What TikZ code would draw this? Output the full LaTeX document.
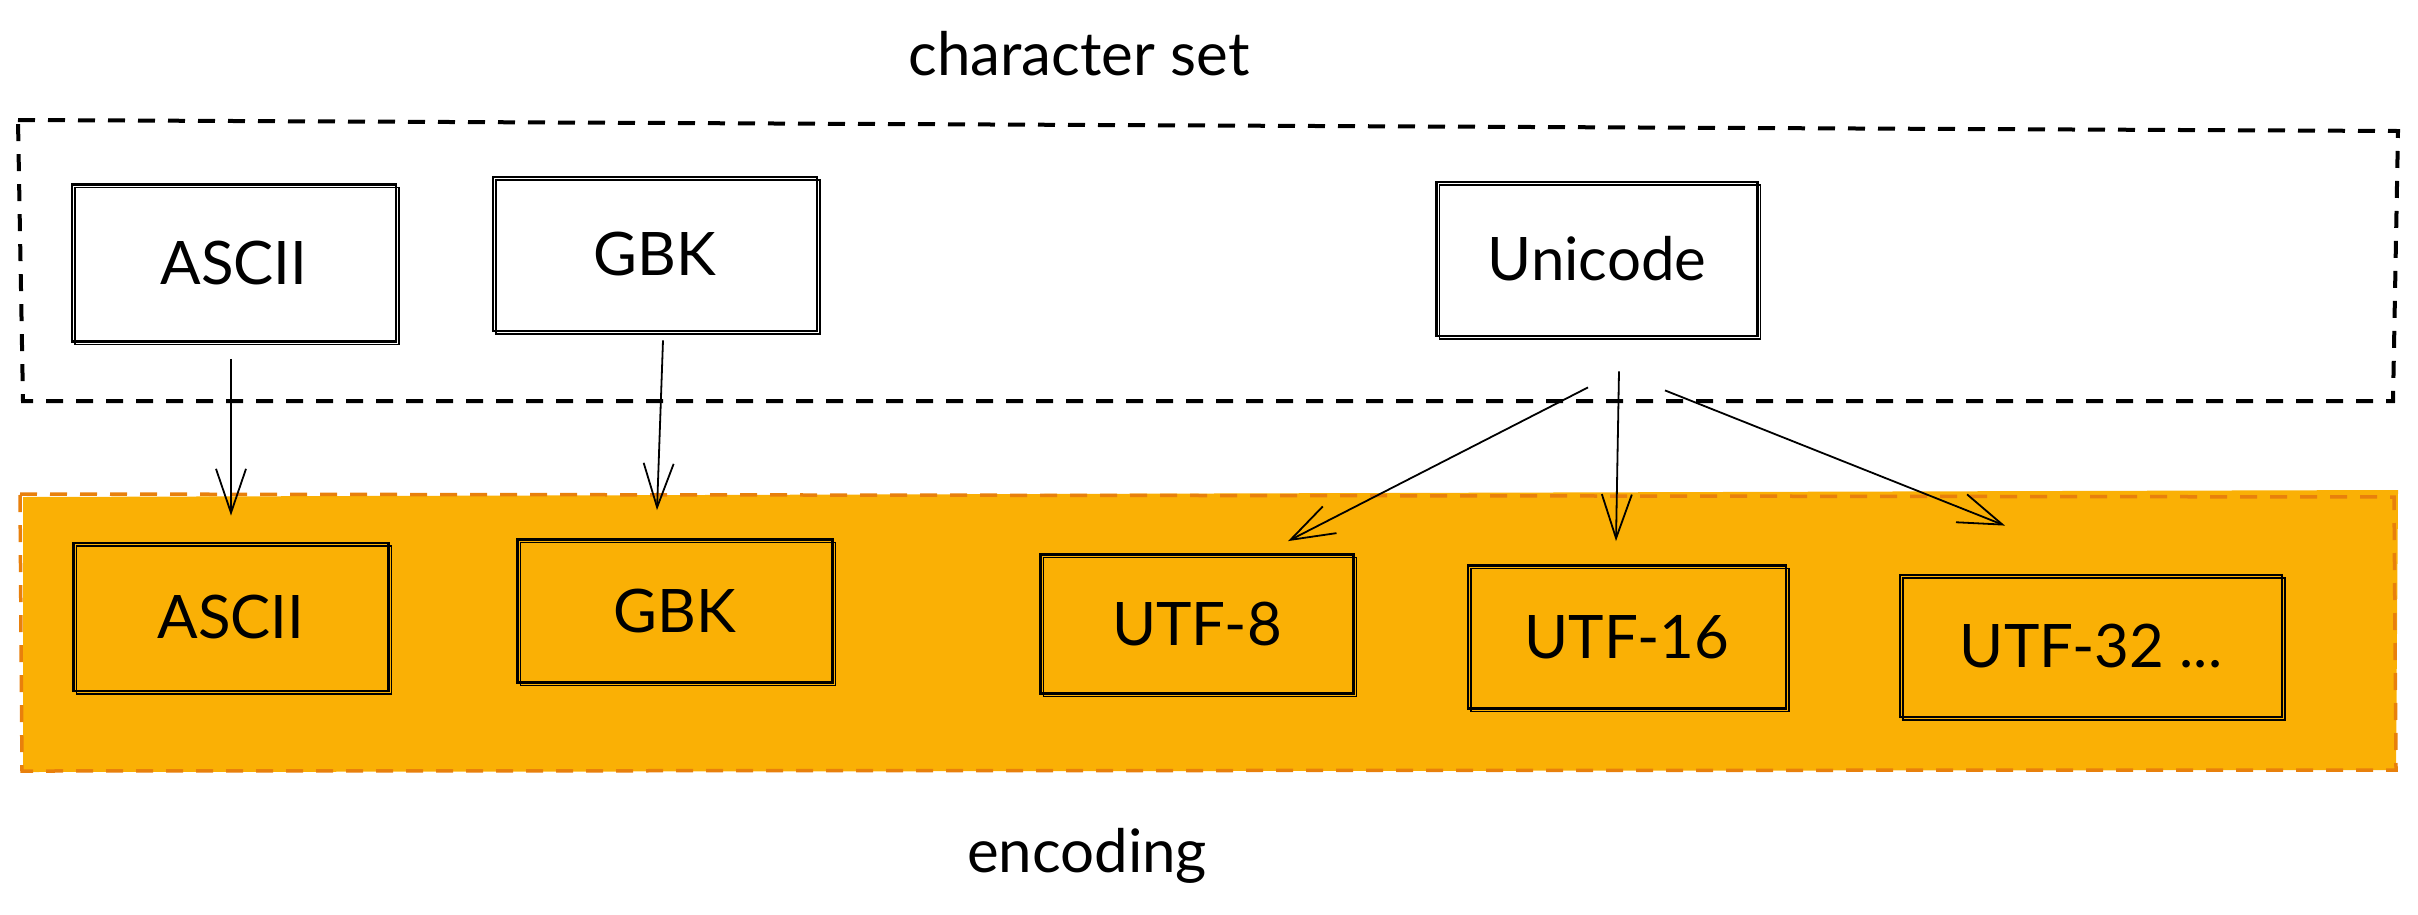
\documentclass[tikz,border=0pt]{standalone}
\usepackage{fontspec}
\setmainfont{Lato}
\usetikzlibrary{arrows.meta,calc}
\definecolor{bandfill}{HTML}{FAB005}
\definecolor{banddash}{HTML}{E8800C}
\tikzset{
  lbl/.style={font=\fontsize{60}{66}\selectfont, text=black},
  sbox/.style={draw=black, line width=2.8pt, minimum width=#1, inner sep=0pt,
     font=\fontsize{60}{66}\selectfont,
     postaction={draw, line width=1.4pt, transform canvas={xshift=3pt, yshift=-3pt}}},
  arr/.style={draw=black, line width=1.8pt, -{Straight Barb[length=44pt,width=30pt,line width=1.8pt]}},
}
\begin{document}
\begin{tikzpicture}[x=1pt,y=-1pt]
\useasboundingbox (0,0) rectangle (2418,914);
% character set region
\draw[line width=4pt, dash pattern=on 17pt off 13pt]
  (18,120) -- (2398,131) -- (2393,401) -- (23,401) -- cycle;
% encoding band
\fill[bandfill] (23,497) -- (2398,490) -- (2396,770) -- (23,772) -- cycle;
\draw[banddash, line width=3.5pt, dash pattern=on 17pt off 13pt]
  (20,494) -- (2394,497) -- (2396,770) -- (22,771) -- cycle;
% labels
\node[lbl] (cs) at (1079,54) {character set};
\node[lbl] (enc) at (1087,856) {encoding};
% top boxes
\node[sbox=324pt, minimum height=157pt, fill=white] (a1) at (234,263) {ASCII};
\node[sbox=324pt, minimum height=154pt, fill=white] (g1) at (655,254) {GBK};
\node[sbox=321pt, minimum height=154pt, fill=white] (u1) at (1597,259) {Unicode};
% bottom boxes
\node[sbox=315pt, minimum height=148pt] (a2) at (231,617) {ASCII};
\node[sbox=315pt, minimum height=143pt] (g2) at (675,611) {GBK};
\node[sbox=313pt, minimum height=139pt] (u8) at (1197,624) {UTF-8};
\node[sbox=318pt, minimum height=143pt] (u16) at (1627,637) {UTF-16};
\node[sbox=382pt, minimum height=142pt] (u32) at (2091,646) {UTF-32 ...};
% arrows
\draw[arr] ($(a1.south)+(-3,16)$) -- ($(a2.north)+(0,-26)$);
\draw[arr] ($(g1.south)+(8,8)$) -- ($(g2.north)+(-18,-28)$);
\draw[arr] ($(u1.south)+(-9,50)$) -- ($(u8.north)+(91,-12)$);
\draw[arr] ($(u1.south)+(22,34)$) -- ($(u16.north)+(-11,-23)$);
\draw[arr] ($(u1.south)+(68,53)$) -- ($(u32.north)+(-86,-48)$);
\end{tikzpicture}
\end{document}
